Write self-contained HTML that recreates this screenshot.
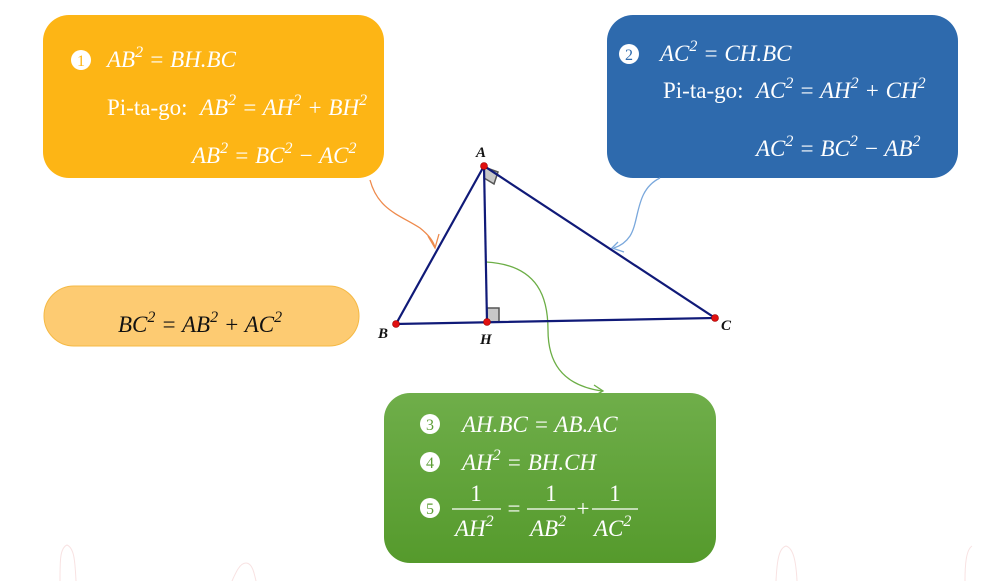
<!DOCTYPE html>
<html><head><meta charset="utf-8"><style>
html,body{margin:0;padding:0;background:#fff;width:983px;height:581px;overflow:hidden}
svg text{font-family:"Liberation Serif",serif;fill:#fff;font-size:23px}
.i{font-style:italic}
.s{font-size:16px}
</style></head><body>
<svg width="983" height="581" viewBox="0 0 983 581" xmlns="http://www.w3.org/2000/svg">
<defs>
<linearGradient id="g" x1="0" y1="0" x2="0" y2="1"><stop offset="0" stop-color="#6fae4a"/><stop offset="1" stop-color="#559a2c"/></linearGradient>
</defs>
<rect x="43" y="15" width="341" height="163" rx="26" fill="#fdb515"/>
<rect x="607" y="15" width="351" height="163" rx="26" fill="#2e6aad"/>
<rect x="44" y="286" width="315" height="60" rx="30" fill="#fdcb72" stroke="#f5b944" stroke-width="1"/>
<rect x="384" y="393" width="332" height="170" rx="26" fill="url(#g)"/>

<g fill="none" stroke="#f8e2e2" stroke-width="1">
<path d="M60 581 C60 560 60 548 67 545 C74 548 75 560 76 581"/>
<path d="M232 581 C236 572 240 563 246 563 C252 563 254 572 256 581"/>
<path d="M776 581 C777 560 779 548 786 546 C793 548 796 560 797 581"/>
<path d="M965 581 C965 565 966 550 972 546"/>
</g>

<path d="M370 180 C378 210 400 215 420 228 C430 236 434 242 435 248" fill="none" stroke="#ee8a4c" stroke-width="1.3"/>
<path d="M428 236 L435 248 L439 234" fill="none" stroke="#ee8a4c" stroke-width="1.3"/>
<path d="M660 178 C635 190 640 220 630 236 C626 242 620 246 614 248" fill="none" stroke="#7aa8dc" stroke-width="1.3"/>
<path d="M618 242 L612 248 L624 252" fill="none" stroke="#7aa8dc" stroke-width="1.3"/>
<path d="M486 262 C540 265 548 300 548 330 C548 360 560 385 602 391" fill="none" stroke="#6cae46" stroke-width="1.3"/>
<path d="M594 385 L603 391 L594 396" fill="none" stroke="#6cae46" stroke-width="1.3"/>

<path d="M484 167 L484 178 L494 184 L498 172 Z" fill="#c8c8c8" stroke="#555" stroke-width="1.5"/>
<path d="M487 322 L487 308 L499 308 L499 321" fill="#c8c8c8" stroke="#555" stroke-width="1.5"/>
<g stroke="#101a78" stroke-width="2.2" fill="none">
<path d="M484 166 L396 324 L715 318 Z"/>
<path d="M484 166 L487 322"/>
</g>
<g fill="#e01010" stroke="#900" stroke-width="0.6">
<circle cx="484" cy="166" r="3.5"/><circle cx="396" cy="324" r="3.5"/><circle cx="487" cy="322" r="3.5"/><circle cx="715" cy="318" r="3.5"/>
</g>
<g style="font-weight:bold;font-style:italic;font-size:15px">
<text x="476" y="157" style="fill:#111;font-size:15px">A</text>
<text x="378" y="338" style="fill:#111;font-size:15px">B</text>
<text x="480" y="344" style="fill:#111;font-size:15px">H</text>
<text x="721" y="330" style="fill:#111;font-size:15px">C</text>
</g>

<circle cx="81" cy="60" r="10" fill="#fff"/><text x="81" y="66" text-anchor="middle" style="fill:#fdb515;font-size:16px">1</text>
<text x="107" y="67" class="i">AB<tspan class="s" dy="-10">2</tspan><tspan dy="10"> = BH.BC</tspan></text>
<text x="107" y="115">Pi-ta-go:</text>
<text x="200" y="115" class="i">AB<tspan class="s" dy="-10">2</tspan><tspan dy="10"> = AH</tspan><tspan class="s" dy="-10">2</tspan><tspan dy="10"> + BH</tspan><tspan class="s" dy="-10">2</tspan></text>
<text x="192" y="163" class="i">AB<tspan class="s" dy="-10">2</tspan><tspan dy="10"> = BC</tspan><tspan class="s" dy="-10">2</tspan><tspan dy="10"> − AC</tspan><tspan class="s" dy="-10">2</tspan></text>

<circle cx="629" cy="54" r="10" fill="#fff"/><text x="629" y="60" text-anchor="middle" style="fill:#2e6aad;font-size:16px">2</text>
<text x="660" y="61" class="i">AC<tspan class="s" dy="-10">2</tspan><tspan dy="10"> = CH.BC</tspan></text>
<text x="663" y="98">Pi-ta-go:</text>
<text x="756" y="98" class="i">AC<tspan class="s" dy="-10">2</tspan><tspan dy="10"> = AH</tspan><tspan class="s" dy="-10">2</tspan><tspan dy="10"> + CH</tspan><tspan class="s" dy="-10">2</tspan></text>
<text x="756" y="156" class="i">AC<tspan class="s" dy="-10">2</tspan><tspan dy="10"> = BC</tspan><tspan class="s" dy="-10">2</tspan><tspan dy="10"> − AB</tspan><tspan class="s" dy="-10">2</tspan></text>

<text x="118" y="332" class="i" style="fill:#111">BC<tspan class="s" dy="-10">2</tspan><tspan dy="10"> = AB</tspan><tspan class="s" dy="-10">2</tspan><tspan dy="10"> + AC</tspan><tspan class="s" dy="-10">2</tspan></text>

<g fill="#fff"><circle cx="430" cy="424" r="10"/><circle cx="430" cy="462" r="10"/><circle cx="430" cy="508" r="10"/></g>
<g text-anchor="middle">
<text x="430" y="430" style="fill:#5d9e36;font-size:16px">3</text><text x="430" y="468" style="fill:#5d9e36;font-size:16px">4</text><text x="430" y="514" style="fill:#5d9e36;font-size:16px">5</text></g>
<text x="462" y="432" class="i">AH.BC = AB.AC</text>
<text x="462" y="470" class="i">AH<tspan class="s" dy="-10">2</tspan><tspan dy="10"> = BH.CH</tspan></text>
<g stroke="#fff" stroke-width="1.2"><path d="M452 509 L501 509"/><path d="M527 509 L575 509"/><path d="M592 509 L638 509"/></g>
<text x="476" y="501" text-anchor="middle">1</text>
<text x="551" y="501" text-anchor="middle">1</text>
<text x="615" y="501" text-anchor="middle">1</text>
<text x="514" y="516" text-anchor="middle">=</text>
<text x="583" y="516" text-anchor="middle">+</text>
<text x="455" y="536" class="i">AH<tspan class="s" dy="-10">2</tspan></text>
<text x="530" y="536" class="i">AB<tspan class="s" dy="-10">2</tspan></text>
<text x="594" y="536" class="i">AC<tspan class="s" dy="-10">2</tspan></text>
</svg>
</body></html>
